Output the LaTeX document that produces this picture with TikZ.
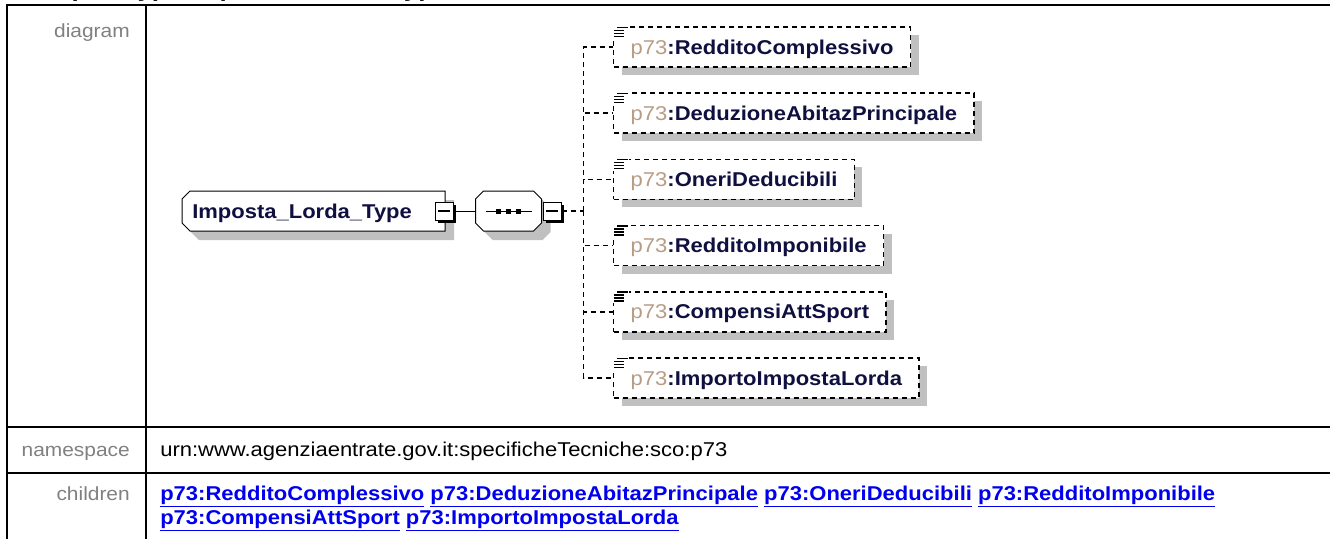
\documentclass[tikz,border=0pt]{standalone}
\usepackage{fontspec}
\setmainfont{Liberation Sans}[FakeStretch=1.1]
\usepackage{xcolor}
\usepackage{tikz}
\usetikzlibrary{positioning,shadows}

\definecolor{shadowgray}{RGB}{192,192,192}
\definecolor{labelgray}{RGB}{128,128,128}
\definecolor{namenavy}{RGB}{16,16,64}
\definecolor{prefixtan}{RGB}{184,156,132}
\definecolor{linkblue}{RGB}{0,0,238}

\begin{document}
\begin{tikzpicture}[
    x=0.75pt,y=-0.75pt,
    rule/.style={line width=1.5pt},
    rowlabel/.style={anchor=base east, inner sep=0pt, text=labelgray,
                     font=\fontsize{14.25pt}{17pt}\selectfont},
    rowtext/.style={anchor=base west, inner sep=0pt, font=\fontsize{15pt}{18pt}\selectfont},
    linkrow/.style={rowtext, text=linkblue, font=\fontsize{15pt}{18pt}\selectfont\bfseries},
    flat/.style={drop shadow={shadow xshift=6.75pt, shadow yshift=-6.75pt, fill=shadowgray, opacity=1}},
    frame/.style={rectangle, inner sep=0pt, outer sep=0pt, minimum height=30pt},
    outline/.style={draw, fill=white, line width=0.75pt, flat},
    toggle/.style={draw, fill=white, line width=0.75pt, minimum size=13.5pt, inner sep=0pt,
                   drop shadow={shadow xshift=2.6pt, shadow yshift=-2.6pt, fill=black, opacity=1},
                   path picture={\draw[line width=0.9pt] ([xshift=2.6pt]path picture bounding box.west)
                     -- ([xshift=-2.6pt]path picture bounding box.east);}},
    typelabel/.style={inner sep=0pt, text height=10.75pt, text depth=0pt, text=namenavy,
                      font=\fontsize{15pt}{18pt}\selectfont\bfseries},
    elem/.style={draw, dash pattern=on 3.75pt off 3pt, line width=1.1pt, fill=white, anchor=west,
                 minimum height=30pt, inner xsep=12.75pt, inner ysep=0pt,
                 text height=10.75pt, text depth=0pt, text=namenavy,
                 font=\fontsize{15pt}{18pt}\selectfont\bfseries,
                 drop shadow={shadow xshift=6pt, shadow yshift=-6pt, fill=shadowgray, opacity=1}},
    branch/.style={dash pattern=on 3.75pt off 3pt, line width=1.1pt}
]
\useasboundingbox (0,0) rectangle (1330,539);
\clip (0,0) rectangle (1330,539);

\node[anchor=base west, inner sep=0pt, font=\fontsize{17.7pt}{20pt}\selectfont\bfseries] (typeTitle)
  at (18,-3.5) {complexType Imposta\_Lorda\_Type};

\draw[rule] (6,5) -- (1330,5);
\draw[rule] (7,5) -- (7,539);
\draw[rule] (146,5) -- (146,539);
\draw[rule] (6,427) -- (1330,427);
\draw[rule] (6,473) -- (1330,473);

\node[rowlabel] (diagramLabel) at (130,37) {diagram};
\node[rowlabel] (namespaceLabel) at (130,456) {namespace};
\node[rowlabel] (childrenLabel) at (130,500) {children};

\node[rowtext] (namespaceText) at (160,456) {urn:www.agenziaentrate.gov.it:specificheTecniche:sco:p73};
\node[linkrow] (childLinksA) at (160,500) {\underline{p73:RedditoComplessivo} \underline{p73:DeduzioneAbitazPrincipale} \underline{p73:OneriDeducibili} \underline{p73:RedditoImponibile}};
\node[linkrow] (childLinksB) at (160,524) {\underline{p73:CompensiAttSport} \underline{p73:ImportoImpostaLorda}};

\node[frame, minimum width=197.25pt] (impostaLorda) at (313.5,211) {};
\draw[outline] ([shift={(8,0)}]impostaLorda.north west) -- (impostaLorda.north east)
  -- (impostaLorda.south east) -- ([shift={(8,0)}]impostaLorda.south west)
  -- ([shift={(0,-8)}]impostaLorda.south west) -- ([shift={(0,8)}]impostaLorda.north west) -- cycle;
\node[typelabel, anchor=west, right=7.5pt of impostaLorda.west] (impostaLabel) {Imposta\_Lorda\_Type};
\node[toggle] (mainToggle) at ([xshift=-0.75pt]impostaLorda.east) {};

\node[frame, minimum width=49.5pt, right=16.5pt of mainToggle] (seq) {};
\draw[outline] ([shift={(8,0)}]seq.north west) -- ([shift={(-8,0)}]seq.north east)
  -- ([shift={(0,8)}]seq.north east) -- ([shift={(0,-8)}]seq.south east)
  -- ([shift={(-8,0)}]seq.south east) -- ([shift={(8,0)}]seq.south west)
  -- ([shift={(0,-8)}]seq.south west) -- ([shift={(0,8)}]seq.north west) -- cycle;
\draw[line width=0.75pt] ([shift={(-23,0)}]seq.center) -- ([shift={(23,0)}]seq.center);
\foreach \dx in {-10,0,10}
  \fill[black] ([shift={(\dx,0)}]seq.center) +(-2.5,-2.5) rectangle +(2.5,2.5);
\node[toggle, right=0.75pt of seq] (seqToggle) {};
\draw[line width=0.75pt] (mainToggle.east) -- (seq.west);

\node[elem] (redditoComplessivo) at (613,47) {{\mdseries\color{prefixtan}p73}:RedditoComplessivo};
\node[elem] (deduzioneAbitaz) at (613,113.2) {{\mdseries\color{prefixtan}p73}:DeduzioneAbitazPrincipale};
\node[elem] (oneriDeducibili) at (613,179.4) {{\mdseries\color{prefixtan}p73}:OneriDeducibili};
\node[elem] (redditoImponibile) at (613,245.6) {{\mdseries\color{prefixtan}p73}:RedditoImponibile};
\node[elem] (compensiAttSport) at (613,311.8) {{\mdseries\color{prefixtan}p73}:CompensiAttSport};
\node[elem] (importoImposta) at (613,378) {{\mdseries\color{prefixtan}p73}:ImportoImpostaLorda};

\coordinate[right=16.5pt of seqToggle] (fork);
\draw[branch] (seqToggle.east) -- (fork);
\foreach \c in {redditoComplessivo,deduzioneAbitaz,oneriDeducibili,redditoImponibile,compensiAttSport,importoImposta} {
  \draw[branch] (fork) |- (\c.west);
  \fill[white] ([shift={(-2,-2)}]\c.north west) rectangle ++(18,14);
  \draw[line width=1.1pt] ([shift={(4,1)}]\c.north west) -- ++(11,0);
  \foreach \dy in {4,7,10}
    \draw[line width=1.1pt] ([shift={(1,\dy)}]\c.north west) -- ++(10,0);
}
\end{tikzpicture}
\end{document}
